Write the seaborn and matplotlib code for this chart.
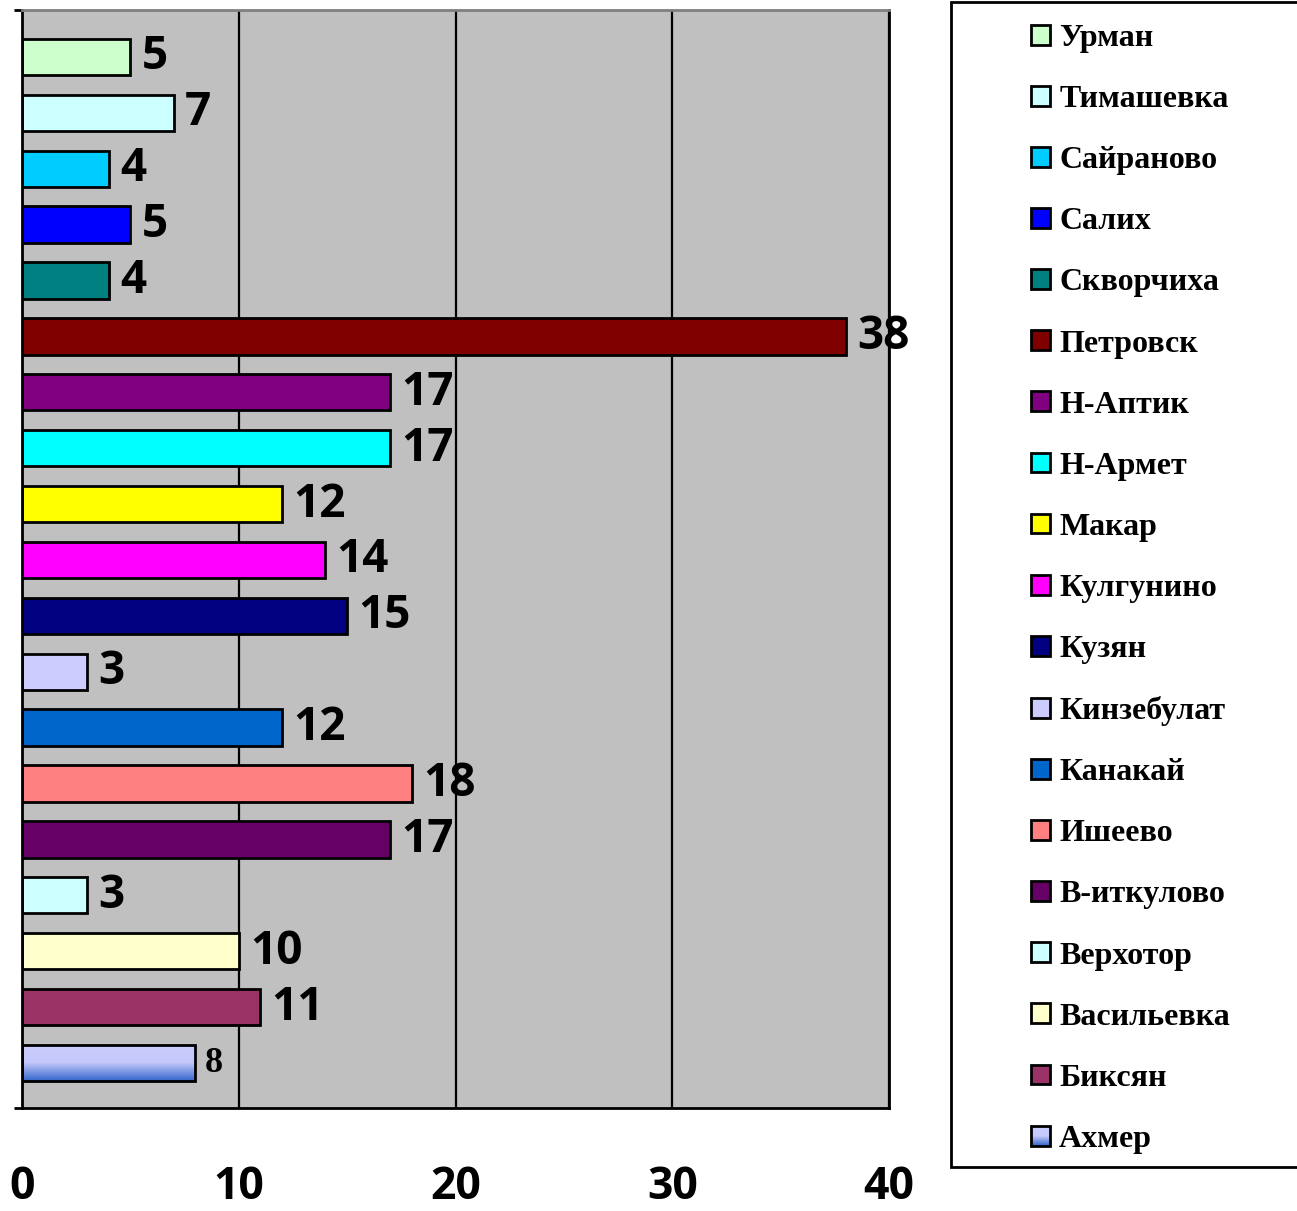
import numpy as np
import pandas as pd
import matplotlib
matplotlib.use("Agg")
import matplotlib.pyplot as plt
import seaborn as sns
from matplotlib.patches import Rectangle
from matplotlib.colors import LinearSegmentedColormap
from matplotlib.legend_handler import HandlerBase

villages = ["Урман", "Тимашевка", "Сайраново", "Салих", "Скворчиха", "Петровск",
            "Н-Аптик", "Н-Армет", "Макар", "Кулгунино", "Кузян", "Кинзебулат",
            "Канакай", "Ишеево", "В-иткулово", "Верхотор", "Васильевка", "Биксян", "Ахмер"]
counts = [5, 7, 4, 5, 4, 38, 17, 17, 12, 14, 15, 3, 12, 18, 17, 3, 10, 11, 8]
colors = ["#CCFFCC", "#CCFFFF", "#00CCFF", "#0000FF", "#008080", "#800000",
          "#800080", "#00FFFF", "#FFFF00", "#FF00FF", "#000080", "#CCCCFF",
          "#0066CC", "#FF8080", "#660066", "#CCFFFF", "#FFFFCC", "#993366", "#8FA0E6"]
grad_colors = ["#CCCCFF", "#C4C8FA", "#3366CC"]  # Ахмер is shaded

df = pd.DataFrame({"village": villages, "count": counts})

sns.set_style("white")
plt.rcParams["font.family"] = ["Open Sans", "DejaVu Sans"]
plt.rcParams["text.color"] = "black"
plt.rcParams["xtick.color"] = "black"
plt.rcParams["ytick.color"] = "black"

fig = plt.figure(figsize=(12.97, 12.11), dpi=100)
ax = fig.add_axes([22 / 1297, 1 - 1108 / 1211, (889 - 22) / 1297, (1108 - 10) / 1211])
ax.set_facecolor("#C0C0C0")

sns.barplot(data=df, x="count", y="village", hue="village", order=villages,
            hue_order=villages, palette=colors, saturation=1, orient="h", width=0.65,
            edgecolor="black", linewidth=2, legend=False, ax=ax, zorder=2)

ax.set_xlim(0, 40)
n = len(villages)
ax.set_ylim(n - 1 + 0.805, -0.84)
ax.set_xticks([0, 10, 20, 30, 40])
ax.set_yticks([n - 1 + 0.805, -0.84])
ax.set_yticklabels(["", ""])
ax.set_xlabel("")
ax.set_ylabel("")
ax.set_axisbelow(True)
ax.grid(axis="x", color="black", linewidth=1.6)
ax.grid(axis="y", visible=False)
ax.tick_params(axis="x", direction="out", length=12, width=2, pad=29, labelsize=32)
ax.tick_params(axis="y", direction="out", length=6, width=2, left=True)
for lab in ax.get_xticklabels():
    lab.set_fontweight("bold")
    lab.set_color("black")
for side in ["left", "bottom", "right"]:
    ax.spines[side].set_color("black")
    ax.spines[side].set_linewidth(2)
ax.spines["top"].set_color("#808080")
ax.spines["top"].set_linewidth(2)

# gradient fill for the last bar
cmap = LinearSegmentedColormap.from_list("ahmer", grad_colors)
bar = ax.containers[-1].patches[0]
x0, y0 = bar.get_xy()
w, h = bar.get_width(), bar.get_height()
grad = np.linspace(0, 1, 256).reshape(-1, 1)
img = ax.imshow(grad, cmap=cmap, aspect="auto", origin="upper",
                extent=(x0, x0 + w, y0 + h, y0), zorder=1.9)
img.set_clip_path(bar)
bar.set_facecolor("none")
ax.set_xlim(0, 40)
ax.set_ylim(n - 1 + 0.805, -0.84)

# value labels
for i, cont in enumerate(ax.containers):
    if villages[i] == "Ахмер":
        ax.bar_label(cont, labels=[str(counts[i])], padding=7, fontsize=26,
                     fontweight="bold", family="Liberation Serif", color="black")
    else:
        ax.bar_label(cont, labels=[str(counts[i])], padding=8, fontsize=33,
                     fontweight="bold", color="black")


class GradHandler(HandlerBase):
    def create_artists(self, legend, orig_handle, xdescent, ydescent, width,
                       height, fontsize, trans):
        arts = []
        steps = 20
        for k in range(steps):
            c = cmap(k / (steps - 1))
            arts.append(Rectangle((-xdescent, -ydescent + height * (1 - (k + 1) / steps)),
                                  width, height / steps, facecolor=c, edgecolor="none",
                                  transform=trans))
        arts.append(Rectangle((-xdescent, -ydescent), width, height, facecolor="none",
                              edgecolor="black", linewidth=2, transform=trans))
        return arts


handles = [Rectangle((0, 0), 1, 1, facecolor=c, edgecolor="black", linewidth=2)
           for c in colors]
grad_handle = handles[-1]
fig.patches.append(Rectangle((951 / 1297, 1 - 1167 / 1211), 0.5, (1167 - 2) / 1211,
                             transform=fig.transFigure, facecolor="white",
                             edgecolor="black", linewidth=2))
leg = fig.legend(handles, villages, loc="upper left",
                 bbox_to_anchor=(1031 / 1297, 1 - 24 / 1211), frameon=False,
                 prop={"family": "Liberation Serif", "weight": "bold", "size": 23},
                 handlelength=0.58, handleheight=0.58, handletextpad=0.3,
                 labelspacing=1.005, borderpad=0, borderaxespad=0,
                 handler_map={grad_handle: GradHandler()})

fig.savefig("out.png", dpi=100, facecolor="white")
